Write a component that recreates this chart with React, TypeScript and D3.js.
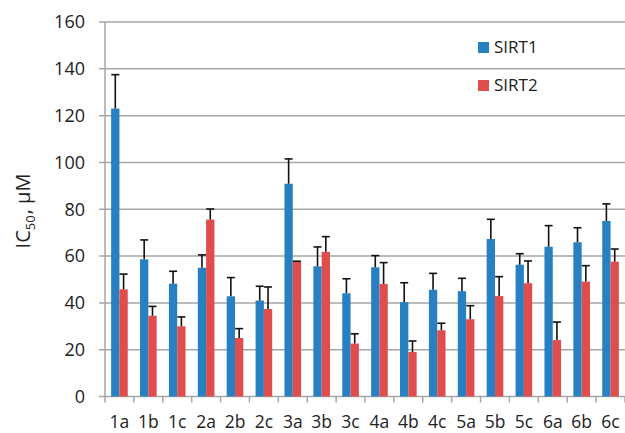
import * as React from 'react';
import * as d3 from 'd3';

const categories = ['1a', '1b', '1c', '2a', '2b', '2c', '3a', '3b', '3c', '4a', '4b', '4c', '5a', '5b', '5c', '6a', '6b', '6c'];
const seriesNames = ['SIRT1', 'SIRT2'];
const sirt1Values = [123, 58.6, 48.2, 55, 42.8, 41, 90.9, 55.6, 44.1, 55.2, 40.3, 45.6, 45, 67.3, 56.3, 64, 65.9, 75];
const sirt1Errors = [14.5, 8.3, 5.3, 5.5, 8, 6.1, 10.6, 8.3, 6.2, 5, 8.3, 7, 5.5, 8.4, 4.7, 9, 6.2, 7.3];
const sirt2Values = [45.8, 34.5, 30, 75.6, 25, 37.4, 57.5, 61.8, 22.6, 48.1, 19, 28.3, 33, 42.9, 48.4, 24.1, 49.1, 57.6];
const sirt2Errors = [6.5, 4, 4, 4.5, 4, 9.4, 0.3, 6.5, 4.2, 9.1, 4.7, 3, 5.8, 8.3, 9.5, 7.7, 6.8, 5.4];
const yTicks = [0, 20, 40, 60, 80, 100, 120, 140, 160];

const colors = ['#2680c2', '#e04d4d'];

export default function App() {
    const ref = React.useRef<SVGSVGElement>(null);

    React.useEffect(() => {
        const svg = d3.select(ref.current);
        svg.selectAll('*').remove();

        const left = 105, right = 625, top = 22, bottom = 396.5;
        const font = '"Open Sans", sans-serif';

        const y = d3.scaleLinear().domain([0, 160]).range([bottom, top]);
        const x0 = d3.scaleBand<string>().domain(categories).range([left, right]);
        const groupWidth = x0.bandwidth() * 0.575;
        const x1 = d3.scaleBand<string>().domain(seriesNames).range([0, groupWidth]);
        const offset = (x0.bandwidth() - groupWidth) / 2;

        // gridlines
        svg.append('g').selectAll('line')
            .data(yTicks)
            .enter().append('line')
            .attr('x1', left - 6).attr('x2', right)
            .attr('y1', (d) => y(d)).attr('y2', (d) => y(d))
            .attr('stroke', '#a6a6a6').attr('stroke-width', 1.5);

        // y axis line
        svg.append('line')
            .attr('x1', left).attr('x2', left)
            .attr('y1', top).attr('y2', bottom)
            .attr('stroke', '#a6a6a6').attr('stroke-width', 1.5);

        // x ticks
        svg.append('g').selectAll('line')
            .data(categories.concat(['end']))
            .enter().append('line')
            .attr('x1', (d, i) => left + i * x0.bandwidth())
            .attr('x2', (d, i) => left + i * x0.bandwidth())
            .attr('y1', bottom).attr('y2', bottom + 6)
            .attr('stroke', '#a6a6a6').attr('stroke-width', 1.5);

        // y labels
        svg.append('g').selectAll('text')
            .data(yTicks)
            .enter().append('text')
            .attr('x', 85).attr('y', (d) => y(d))
            .attr('dy', '0.35em')
            .attr('text-anchor', 'end')
            .style('font-family', font).style('font-size', '18px').attr('fill', '#222')
            .text((d) => d);

        // x labels
        svg.append('g').selectAll('text')
            .data(categories)
            .enter().append('text')
            .attr('x', (d) => (x0(d) as number) + x0.bandwidth() / 2)
            .attr('y', 428)
            .attr('text-anchor', 'middle')
            .style('font-family', font).style('font-size', '17.5px').attr('fill', '#222')
            .text((d) => d);

        const series = [
            { name: 'SIRT1', values: sirt1Values, errors: sirt1Errors },
            { name: 'SIRT2', values: sirt2Values, errors: sirt2Errors },
        ];

        series.forEach((s, si) => {
            const g = svg.append('g');
            g.selectAll('rect')
                .data(categories)
                .enter().append('rect')
                .attr('x', (d) => (x0(d) as number) + offset + (x1(s.name) as number))
                .attr('y', (d, i) => y(s.values[i]))
                .attr('width', x1.bandwidth())
                .attr('height', (d, i) => bottom - y(s.values[i]))
                .attr('fill', colors[si]);
        });

        // error bars (plus side only)
        series.forEach((s) => {
            const g = svg.append('g').attr('stroke', '#111').attr('stroke-width', 1.6);
            categories.forEach((c, i) => {
                const cx = (x0(c) as number) + offset + (x1(s.name) as number) + x1.bandwidth() / 2;
                const y0 = y(s.values[i]);
                const y1 = y(s.values[i] + s.errors[i]);
                g.append('line').attr('x1', cx).attr('x2', cx).attr('y1', y0).attr('y2', y1);
                g.append('line').attr('x1', cx - 4).attr('x2', cx + 4).attr('y1', y1).attr('y2', y1);
            });
        });

        // legend
        const legend = svg.append('g');
        seriesNames.forEach((name, i) => {
            legend.append('rect')
                .attr('x', 478).attr('y', 42 + i * 38)
                .attr('width', 11).attr('height', 11)
                .attr('fill', colors[i]);
            legend.append('text')
                .attr('x', 494).attr('y', 53 + i * 38)
                .style('font-family', font).style('font-size', '17px').attr('fill', '#222')
                .text(name);
        });

        // y axis title
        const title = svg.append('text')
            .attr('transform', 'translate(30,211) rotate(-90)')
            .attr('text-anchor', 'middle')
            .style('font-family', font).style('font-size', '20px').attr('fill', '#222');
        title.append('tspan').text('IC');
        title.append('tspan').attr('dy', 5).style('font-size', '13px').text('50');
        title.append('tspan').attr('dy', -5).attr('dx', 1).text(', μM');
    }, []);

    return (
        <svg ref={ref} width={625} height={433}
            style={{ position: 'absolute', left: 0, top: 0, background: '#fff' }} />
    );
}
